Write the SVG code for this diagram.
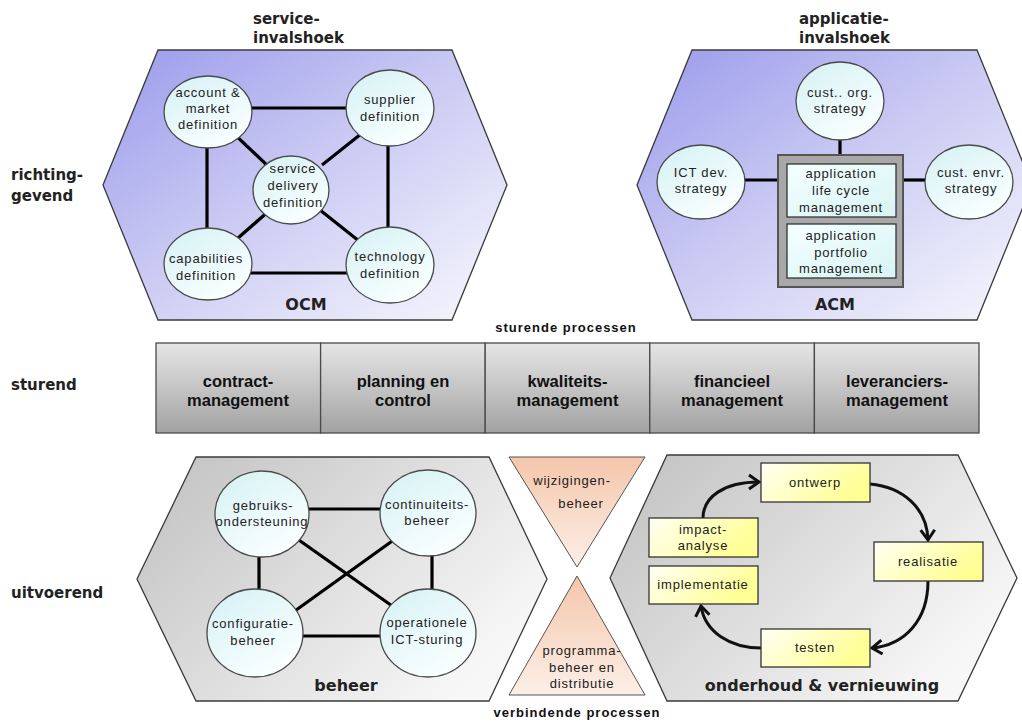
<svg xmlns="http://www.w3.org/2000/svg" width="1022" height="724" viewBox="0 0 1022 724">
<defs>
<linearGradient id="gPurple" x1="0" y1="0" x2="1" y2="1">
<stop offset="0" stop-color="#9a9aec"/>
<stop offset="0.45" stop-color="#c8c8f3"/>
<stop offset="1" stop-color="#f8f8fd"/>
</linearGradient>
<linearGradient id="gGray" x1="0" y1="0" x2="1" y2="0.6">
<stop offset="0" stop-color="#c0c0c0"/>
<stop offset="1" stop-color="#f7f7f7"/>
</linearGradient>
<linearGradient id="gBar" x1="0" y1="0" x2="0" y2="1">
<stop offset="0" stop-color="#e6e6e6"/>
<stop offset="1" stop-color="#a2a2a2"/>
</linearGradient>
<linearGradient id="gCircle" x1="0" y1="0" x2="0.7" y2="1">
<stop offset="0" stop-color="#d4f1f4"/>
<stop offset="1" stop-color="#fbffff"/>
</linearGradient>
<linearGradient id="gCyanBox" x1="0" y1="0" x2="1" y2="1">
<stop offset="0" stop-color="#f4ffff"/>
<stop offset="1" stop-color="#d8f4f4"/>
</linearGradient>
<linearGradient id="gYellow" x1="0" y1="0" x2="1" y2="0.4">
<stop offset="0" stop-color="#fffff4"/>
<stop offset="1" stop-color="#ffff94"/>
</linearGradient>
<linearGradient id="gPeach" x1="0" y1="0" x2="0" y2="1">
<stop offset="0" stop-color="#f5c6aa"/>
<stop offset="1" stop-color="#fcefe7"/>
</linearGradient>
<marker id="arr" markerUnits="userSpaceOnUse" markerWidth="18" markerHeight="18" viewBox="0 0 18 18" refX="14" refY="9" orient="auto">
<path d="M4,2 L14,9 L4,16" fill="none" stroke="#111" stroke-width="3"/>
</marker>
<style>
.hex{stroke:#3a3a3a;stroke-width:1.3}
.node{fill:url(#gCircle);stroke:#4a4a4a;stroke-width:1.3}
.t{font-family:"Liberation Sans",Arial,sans-serif;font-size:13px;letter-spacing:0.8px;fill:#222;text-anchor:middle}
.h{font-family:"DejaVu Sans",Verdana,sans-serif;font-weight:bold;font-size:15px;fill:#222}
.hc{text-anchor:middle;font-size:16px}
.bar{fill:url(#gBar);stroke:#4a4a4a;stroke-width:1.3}
.bt{font-family:"Liberation Sans",Arial,sans-serif;font-weight:bold;font-size:16.5px;fill:#111;text-anchor:middle}
.sub{font-family:"Liberation Sans",Arial,sans-serif;font-weight:bold;font-size:13px;letter-spacing:1px;fill:#111;text-anchor:middle}
.link{stroke:#000;stroke-width:3.2;fill:none}
.cyc{stroke:#111;stroke-width:3;fill:none;marker-end:url(#arr)}
.ybox{fill:url(#gYellow);stroke:#333;stroke-width:1.3}
.cbox{fill:url(#gCyanBox);stroke:#333;stroke-width:1.3}
.tri{fill:url(#gPeach);stroke:#555;stroke-width:1}
</style>
</defs>
<rect width="1022" height="724" fill="#fff"/>

<!-- row labels -->
<g id="labels">
<text class="h" x="11" y="180">richting-</text>
<text class="h" x="11" y="201">gevend</text>
<text class="h" x="11" y="390">sturend</text>
<text class="h" x="11" y="598">uitvoerend</text>
<text class="h" x="253" y="24">service-</text>
<text class="h" x="253" y="43">invalshoek</text>
<text class="h" x="799" y="24">applicatie-</text>
<text class="h" x="799" y="43">invalshoek</text>
<text class="sub" x="566" y="332">sturende processen</text>
<text class="sub" x="577" y="717">verbindende processen</text>
</g>

<!-- containers -->
<g id="ocm">
<polygon class="hex" fill="url(#gPurple)" points="103,185 158,50 452,50 507,185 452,320 158,320"/>
<text class="h hc" x="306" y="310">OCM</text>
</g>
<g id="acm">
<polygon class="hex" fill="url(#gPurple)" points="637,185 692,50 977,50 1032,185 977,320 692,320"/>
<text class="h hc" x="835" y="310">ACM</text>
</g>
<g id="beheer">
<polygon class="hex" fill="url(#gGray)" points="137,579 196,457 489,457 547,579 489,701 196,701"/>
<text class="h hc" x="346" y="691">beheer</text>
</g>
<g id="onderhoud">
<polygon class="hex" fill="url(#gGray)" points="610,578 667,455 958,455 1017,578 958,701 667,701"/>
<text class="h hc" x="822" y="691">onderhoud &amp; vernieuwing</text>
</g>

<!-- connectors -->
<g id="connectors">
<line class="link" x1="240" y1="108" x2="360" y2="108"/>
<line class="link" x1="207" y1="140" x2="207" y2="235"/>
<line class="link" x1="388" y1="140" x2="388" y2="235"/>
<line class="link" x1="240" y1="273" x2="360" y2="273"/>
<line class="link" x1="230" y1="130" x2="270" y2="168"/>
<line class="link" x1="366" y1="130" x2="322" y2="165"/>
<line class="link" x1="230" y1="245" x2="270" y2="210"/>
<line class="link" x1="364" y1="245" x2="320" y2="210"/>
<line class="link" x1="840" y1="135" x2="840" y2="156"/>
<line class="link" x1="740" y1="180" x2="779" y2="180"/>
<line class="link" x1="902" y1="180" x2="930" y2="180"/>
<line class="link" x1="300" y1="509" x2="390" y2="509"/>
<line class="link" x1="259" y1="550" x2="259" y2="595"/>
<line class="link" x1="432" y1="550" x2="432" y2="595"/>
<line class="link" x1="295" y1="636" x2="390" y2="636"/>
<line class="link" x1="296" y1="538" x2="395" y2="608"/>
<line class="link" x1="292" y1="613" x2="395" y2="539"/>
<path class="cyc" d="M703,518 C703,497 724,482 759,482"/>
<path class="cyc" d="M870,484 C903,487 927,508 928,540"/>
<path class="cyc" d="M928,581 C928,620 905,645 872,648"/>
<path class="cyc" d="M761,648 C730,648 705,632 701,606"/>
</g>

<!-- OCM nodes -->
<g id="account">
<ellipse class="node" cx="208" cy="112" rx="44" ry="36"/>
<text class="t" x="208" y="97">account &amp;</text>
<text class="t" x="208" y="113">market</text>
<text class="t" x="208" y="129">definition</text>
</g>
<g id="supplier">
<ellipse class="node" cx="390" cy="108" rx="44" ry="38"/>
<text class="t" x="390" y="104">supplier</text>
<text class="t" x="390" y="121">definition</text>
</g>
<g id="service">
<ellipse class="node" cx="291" cy="190" rx="38" ry="34"/>
<text class="t" x="293" y="173">service</text>
<text class="t" x="293" y="190">delivery</text>
<text class="t" x="293" y="207">definition</text>
</g>
<g id="capabilities">
<ellipse class="node" cx="208" cy="264" rx="44" ry="36"/>
<text class="t" x="206" y="263">capabilities</text>
<text class="t" x="206" y="280">definition</text>
</g>
<g id="technology">
<ellipse class="node" cx="390" cy="265" rx="44" ry="38"/>
<text class="t" x="390" y="261">technology</text>
<text class="t" x="390" y="278">definition</text>
</g>

<!-- ACM nodes -->
<g id="custorg">
<ellipse class="node" cx="840" cy="101" rx="44" ry="39"/>
<text class="t" x="840" y="97">cust.. org.</text>
<text class="t" x="840" y="113">strategy</text>
</g>
<g id="ictdev">
<ellipse class="node" cx="701" cy="182" rx="44" ry="37"/>
<text class="t" x="701" y="177">ICT dev.</text>
<text class="t" x="701" y="193">strategy</text>
</g>
<g id="custenvr">
<ellipse class="node" cx="969" cy="182" rx="44" ry="37"/>
<text class="t" x="971" y="177">cust. envr.</text>
<text class="t" x="971" y="193">strategy</text>
</g>
<g id="appbox">
<rect x="778" y="155" width="125" height="132" fill="#a8a8a8" stroke="#555" stroke-width="2"/>
<rect class="cbox" x="787" y="164" width="109" height="53"/>
<text class="t" x="841" y="178">application</text>
<text class="t" x="841" y="195">life cycle</text>
<text class="t" x="841" y="212">management</text>
<rect class="cbox" x="787" y="224" width="109" height="54"/>
<text class="t" x="841" y="240">application</text>
<text class="t" x="841" y="257">portfolio</text>
<text class="t" x="841" y="273">management</text>
</g>

<!-- sturende processen bar -->
<g id="contract">
<rect class="bar" x="156" y="343" width="164.6" height="90"/>
<text class="bt" x="238" y="387">contract-</text>
<text class="bt" x="238" y="406">management</text>
</g>
<g id="planning">
<rect class="bar" x="320.6" y="343" width="164.6" height="90"/>
<text class="bt" x="403" y="387">planning en</text>
<text class="bt" x="403" y="406">control</text>
</g>
<g id="kwaliteit">
<rect class="bar" x="485.2" y="343" width="164.6" height="90"/>
<text class="bt" x="567.5" y="387">kwaliteits-</text>
<text class="bt" x="567.5" y="406">management</text>
</g>
<g id="financieel">
<rect class="bar" x="649.8" y="343" width="164.6" height="90"/>
<text class="bt" x="732" y="387">financieel</text>
<text class="bt" x="732" y="406">management</text>
</g>
<g id="leveranciers">
<rect class="bar" x="814.4" y="343" width="164.6" height="90"/>
<text class="bt" x="897" y="387">leveranciers-</text>
<text class="bt" x="897" y="406">management</text>
</g>

<!-- beheer nodes -->
<g id="gebruik">
<ellipse class="node" cx="262" cy="514" rx="47" ry="43"/>
<text class="t" x="263" y="510">gebruiks-</text>
<text class="t" x="262" y="526">ondersteuning</text>
</g>
<g id="continuiteit">
<ellipse class="node" cx="428" cy="513" rx="48" ry="43"/>
<text class="t" x="427" y="509">continuiteits-</text>
<text class="t" x="427" y="525">beheer</text>
</g>
<g id="configuratie">
<ellipse class="node" cx="255" cy="633" rx="48" ry="44"/>
<text class="t" x="253" y="628">configuratie-</text>
<text class="t" x="253" y="645">beheer</text>
</g>
<g id="operationeel">
<ellipse class="node" cx="428" cy="633" rx="48" ry="44"/>
<text class="t" x="427" y="627">operationele</text>
<text class="t" x="427" y="644">ICT-sturing</text>
</g>

<!-- verbindende processen -->
<g id="wijziging">
<polygon class="tri" points="509,457 645,457 577,567"/>
<text class="t" x="572" y="485">wijzigingen-</text>
<text class="t" x="581" y="508">beheer</text>
</g>
<g id="programma">
<polygon class="tri" points="577,576 645,695 509,695"/>
<text class="t" x="582" y="655">programma-</text>
<text class="t" x="582" y="672">beheer en</text>
<text class="t" x="582" y="688">distributie</text>
</g>

<!-- onderhoud cycle -->
<g id="ontwerp">
<rect class="ybox" x="761" y="463" width="109" height="39"/>
<text class="t" x="815" y="487">ontwerp</text>
</g>
<g id="realisatie">
<rect class="ybox" x="874" y="542" width="109" height="39"/>
<text class="t" x="928" y="566">realisatie</text>
</g>
<g id="testen">
<rect class="ybox" x="761" y="629" width="109" height="38"/>
<text class="t" x="815" y="652">testen</text>
</g>
<g id="impact">
<rect class="ybox" x="649" y="518" width="109" height="39"/>
<text class="t" x="703" y="534">impact-</text>
<text class="t" x="703" y="550">analyse</text>
</g>
<g id="implementatie">
<rect class="ybox" x="649" y="566" width="109" height="38"/>
<text class="t" x="703" y="589">implementatie</text>
</g>
</svg>
